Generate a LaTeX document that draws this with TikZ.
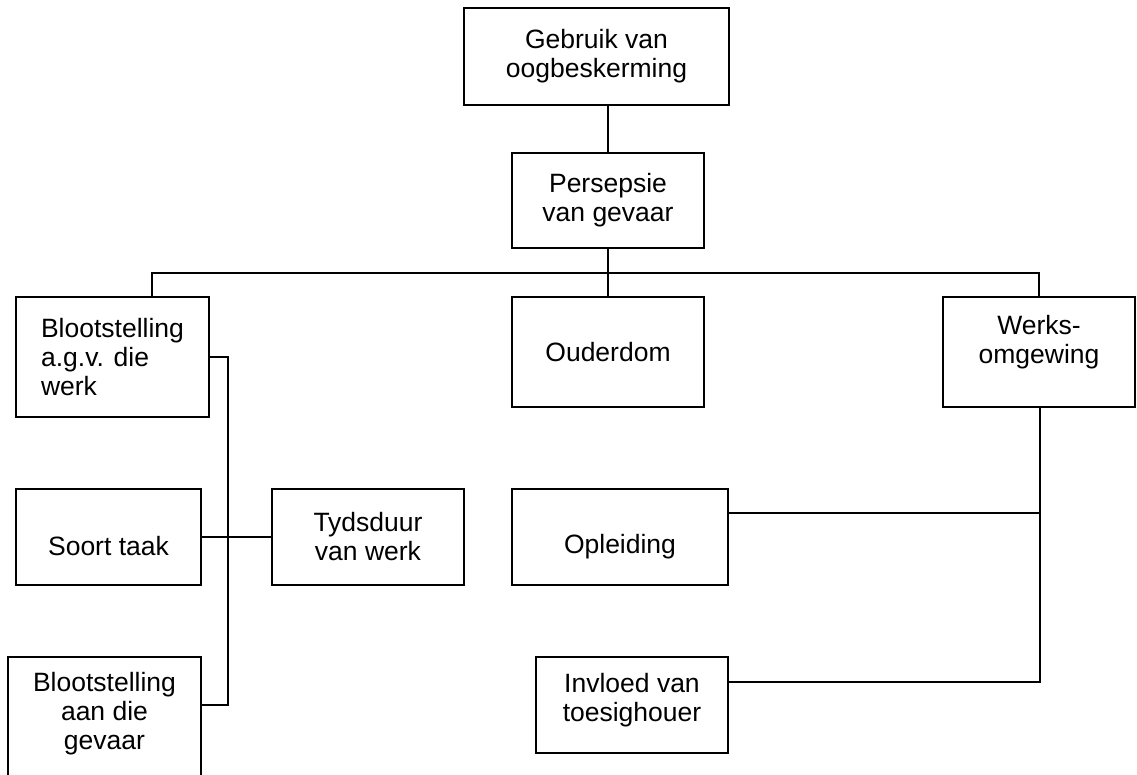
\documentclass[tikz,border=0pt]{standalone}
\usepackage{fontspec}
\setmainfont{Liberation Sans}
\begin{document}
\begin{tikzpicture}[x=1pt,y=-1pt,
  box/.style={draw, line width=1.5pt, inner sep=0pt, align=center,
    font=\fontsize{26.5}{29}\selectfont},
  txt/.style={font=\fontsize{26.5}{29}\selectfont, align=center, inner sep=0pt},
  link/.style={line width=1.5pt}]
\useasboundingbox (0,0) rectangle (1137,775);
\fill[white] (0,0) rectangle (1137,775);

% boxes
\node[box, minimum width=265, minimum height=97] (top) at (596.5,56.5) {Gebruik van\\oogbeskerming};
\node[box, minimum width=192, minimum height=95] (pers) at (608,200.5) {Persepsie\\van gevaar};
\node[box, minimum width=193, minimum height=120, align=left] (bl1) at (112.5,357) {Blootstelling\\a.g.v. die\\werk};
\node[box, minimum width=192, minimum height=110] (oud) at (608,352) {Ouderdom};
\node[box, minimum width=192, minimum height=110,
  label={[txt, yshift=10pt]center:Werks-\\omgewing}] (werks) at (1039,352) {};
\node[box, minimum width=185, minimum height=96,
  label={[txt, yshift=-9pt]center:Soort taak}] (soort) at (108.5,537) {};
\node[box, minimum width=192, minimum height=96] (tyd) at (368,537) {Tydsduur\\van werk};
\node[box, minimum width=193, minimum height=133,
  label={[txt, yshift=10pt]center:Blootstelling\\aan die\\gevaar}] (bl2) at (104.5,723.5) {};
\node[box, minimum width=216, minimum height=96,
  label={[txt, yshift=-10pt]center:Opleiding}] (opl) at (620,537) {};
\node[box, minimum width=192, minimum height=96,
  label={[txt, yshift=5pt]center:Invloed van\\toesighouer}] (inv) at (632,705) {};

% junction points
\coordinate (bj) at (608,273);
\coordinate (blj) at (152,297);
\coordinate (spt) at (228,357);
\coordinate (spb) at (228,705);
\coordinate (oj) at (1040,513);
\coordinate (ij) at (1040,682);

% connectors
\draw[link] (pers.north |- top.south) -- (pers.north);
\draw[link] (pers.south) -- (bj);
\draw[link] (blj) -- (blj |- bj) -- (bj -| werks.north) -- (werks.north);
\draw[link] (bj) -- (oud.north);
\draw[link] (spt -| bl1.east) -- (spt) -- (spb) -- (spb -| bl2.east);
\draw[link] (soort.east) -- (tyd.west);
\draw[link] (werks.south -| ij) -- (ij) -- (ij -| inv.east);
\draw[link] (oj -| opl.east) -- (oj);
\end{tikzpicture}
\end{document}
